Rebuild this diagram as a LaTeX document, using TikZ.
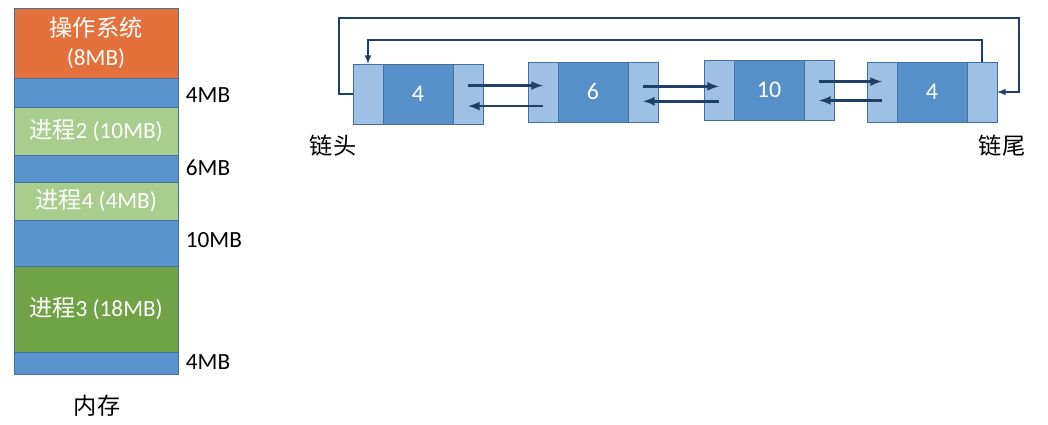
\documentclass[tikz,border=0pt]{standalone}
\usepackage{fontspec}
\setmainfont{Carlito}
\newfontfamily\cjk{Noto Sans CJK SC}
\usetikzlibrary{positioning, arrows}
\definecolor{osorange}{HTML}{E4703C}
\definecolor{freeblue}{HTML}{5B93CC}
\definecolor{lightgreen}{HTML}{A8CD8C}
\definecolor{darkgreen}{HTML}{70A346}
\definecolor{ptrblue}{HTML}{9DC0E4}
\definecolor{datablue}{HTML}{5790C8}
\definecolor{edgeblue}{HTML}{41719C}
\definecolor{linkblue}{HTML}{1F3F66}
\tikzset{
	mem/.style={draw=edgeblue, rectangle, anchor=north west, minimum width=4.1cm, inner sep=0pt, outer sep=0pt, text=white, align=center, font=\fontsize{16.5}{21}\selectfont},
	ptr/.style={draw=edgeblue, fill=ptrblue, rectangle, minimum width=0.75cm, minimum height=1.5cm, inner sep=0pt, outer sep=0pt},
	data/.style={draw=edgeblue, fill=datablue, rectangle, minimum width=1.75cm, minimum height=1.5cm, inner sep=0pt, outer sep=0pt, text=white, font=\fontsize{17}{19}\selectfont},
	size/.style={anchor=west, font=\fontsize{16.5}{19}\selectfont},
	link/.style={-latex, draw=linkblue, line width=1.8pt},
	loop/.style={-latex, draw=linkblue, line width=1.1pt}
}
\begin{document}
\begin{tikzpicture}[x=0.025cm, y=-0.025cm]
			\useasboundingbox (0,0) rectangle (1048,424);
			
			%Memory
			\node (OS) at (14,8) [mem, fill=osorange, minimum height=1.75cm]{{\cjk 操作系统}\\(8MB)};
			\node (FreeA) at (14,78) [mem, fill=freeblue, minimum height=0.725cm]{};
			\node (ProcB) at (14,107) [mem, fill=lightgreen, minimum height=1.2cm]{{\cjk 进程}2 (10MB)};
			\node (FreeB) at (14,155) [mem, fill=freeblue, minimum height=0.675cm]{};
			\node (ProcD) at (14,182) [mem, fill=lightgreen, minimum height=0.95cm]{{\cjk 进程}4 (4MB)};
			\node (FreeC) at (14,220) [mem, fill=freeblue, minimum height=1.15cm]{};
			\node (ProcC) at (14,266) [mem, fill=darkgreen, minimum height=2.15cm]{{\cjk 进程}3 (18MB)};
			\node (FreeD) at (14,352) [mem, fill=freeblue, minimum height=0.55cm]{};
			
			%Sizes
			\node (SizeA) at (181,95) [size]{4MB};
			\node (SizeB) at (181,168) [size]{6MB};
			\node (SizeC) at (181,240) [size]{10MB};
			\node (SizeD) at (181,362) [size]{4MB};
			\node (Memory) at (97,406) [font=\cjk\fontsize{16.5}{19}\selectfont]{内存};
			
			%List
			\node (DataA) at (418,94) [data]{4};
			\node (PrevA) [ptr, left=0pt of DataA]{};
			\node (NextA) [ptr, right=0pt of DataA]{};
			\node (DataB) at (593,92) [data]{6};
			\node (PrevB) [ptr, left=0pt of DataB]{};
			\node (NextB) [ptr, right=0pt of DataB]{};
			\node (DataC) at (769,90) [data]{10};
			\node (PrevC) [ptr, left=0pt of DataC]{};
			\node (NextC) [ptr, right=0pt of DataC]{};
			\node (DataD) at (932,92) [data]{4};
			\node (PrevD) [ptr, left=0pt of DataD]{};
			\node (NextD) [ptr, right=0pt of DataD]{};
			
			%Links
			\draw[link] ([yshift=6pt]NextA.center) -- ([yshift=6pt]NextA.center -| PrevB.center);
			\draw[link] ([yshift=-10pt]PrevB.center) -- ([yshift=-10pt]PrevB.center -| NextA.center);
			\draw[link] ([yshift=4pt]NextB.center) -- ([yshift=4pt]NextB.center -| PrevC.center);
			\draw[link] ([yshift=-8pt]PrevC.center) -- ([yshift=-8pt]PrevC.center -| NextB.center);
			\draw[link] ([yshift=6pt]NextC.center) -- ([yshift=6pt]NextC.center -| PrevD.center);
			\draw[link] ([yshift=-6pt]PrevD.center) -- ([yshift=-6pt]PrevD.center -| NextC.center);
			\draw[loop] (NextD.north) -- ++(0,-22) -| (PrevA.north);
			\draw[loop] (PrevA.west) -- ++(-14,0) -- ++(0,-76) -- ++(680,0) |- (NextD.east);
			
			%Ends
			\node (Head) at (333,146) [font=\cjk\fontsize{16.5}{19}\selectfont]{链头};
			\node (Tail) at (1002,146) [font=\cjk\fontsize{16.5}{19}\selectfont]{链尾};
			
\end{tikzpicture}
\end{document}
